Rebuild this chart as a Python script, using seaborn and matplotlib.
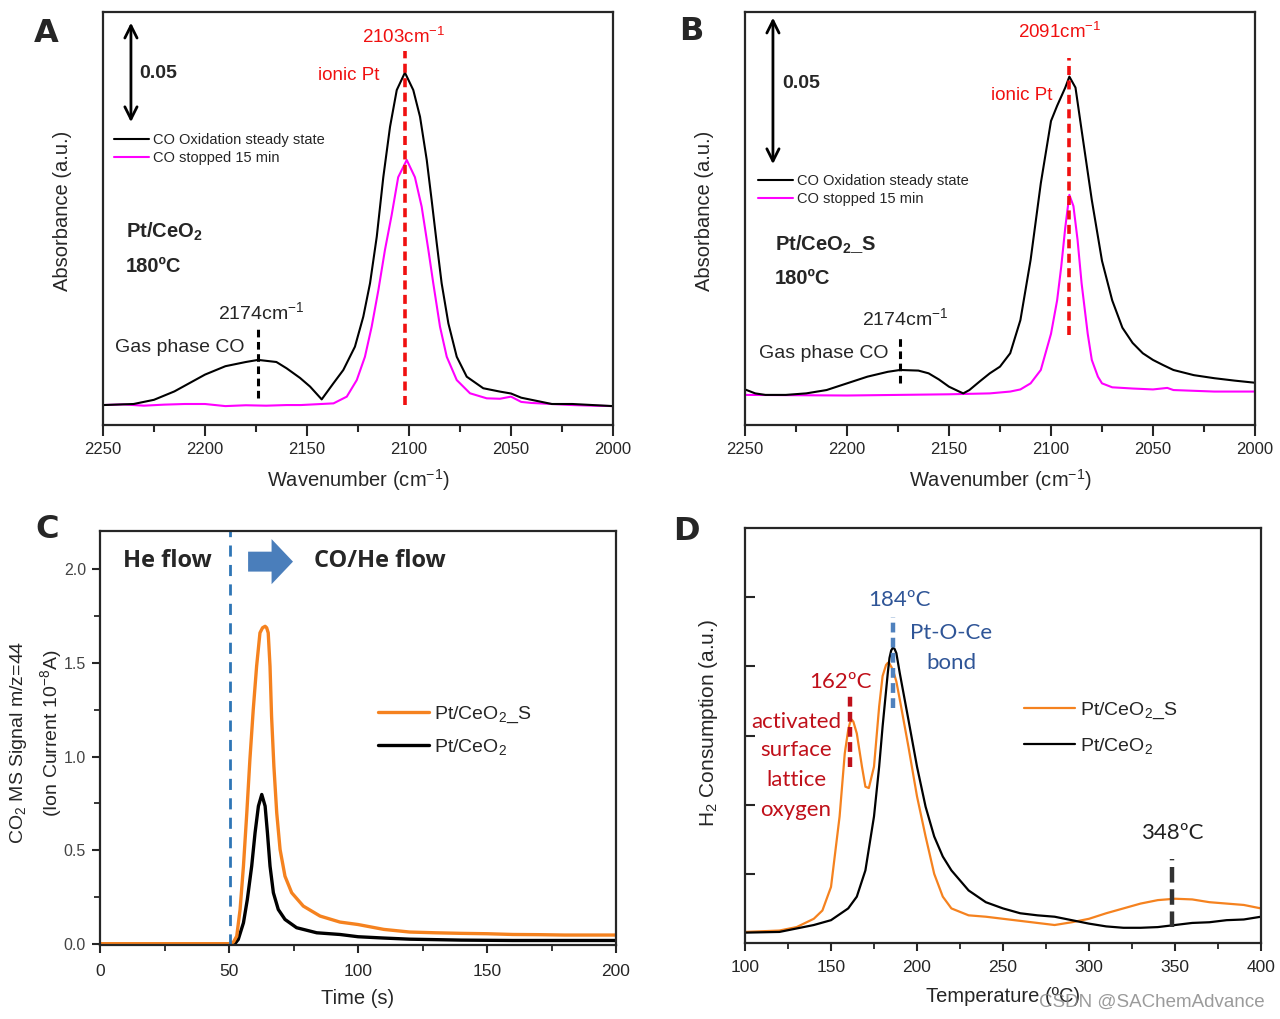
import numpy as np
import pandas as pd
import matplotlib
matplotlib.use("Agg")
import matplotlib.pyplot as plt
import seaborn as sns
from matplotlib.patches import FancyArrow
from matplotlib.ticker import MultipleLocator

# ---------------- data ----------------
# Panel A (Pt/CeO2, DRIFTS)
A_wn_black = [2250, 2235, 2225, 2215, 2200, 2190, 2180, 2174, 2165, 2160, 2153.4, 2148.5, 2142.8, 2137.1,
              2132.2, 2126.5, 2122.4, 2119.1, 2115.8, 2112.6, 2109.3, 2106.0, 2102.0, 2097.9, 2094.6, 2091.3,
              2088.9, 2086.4, 2084.0, 2080.7, 2076.6, 2071.7, 2063.6, 2055.4, 2050, 2045, 2040, 2030, 2020,
              2010, 2000]
A_black = [0.0095, 0.010, 0.012, 0.016, 0.024, 0.028, 0.030, 0.031, 0.030, 0.027, 0.0224, 0.0183, 0.0122,
           0.0198, 0.0262, 0.0373, 0.0516, 0.0675, 0.0897, 0.118, 0.142, 0.1595, 0.1678, 0.1595, 0.1468,
           0.1262, 0.1071, 0.0865, 0.0675, 0.0484, 0.0325, 0.0230, 0.0175, 0.0159, 0.015, 0.013, 0.012,
           0.010, 0.010, 0.0095, 0.009]
A_wn_mag = [2250, 2240, 2230, 2220, 2210, 2200, 2190, 2180, 2170, 2160, 2153, 2137, 2130.5, 2125.6, 2121.6,
            2118.3, 2115.0, 2111.8, 2108.5, 2105.3, 2101.1, 2097.1, 2093.8, 2090.5, 2088.1, 2084.8, 2081.5,
            2076.6, 2070.1, 2061.9, 2055.4, 2050, 2045, 2040, 2030, 2020, 2010, 2000]
A_mag = [0.0095, 0.0098, 0.0092, 0.0097, 0.0100, 0.0100, 0.0090, 0.0094, 0.0092, 0.0095, 0.0095, 0.0103,
         0.0135, 0.0214, 0.0325, 0.0468, 0.0643, 0.0833, 0.100, 0.118, 0.1262, 0.118, 0.104, 0.0833, 0.0675,
         0.0468, 0.0325, 0.0214, 0.0151, 0.0127, 0.0125, 0.0135, 0.011, 0.0105, 0.010, 0.0095, 0.0092, 0.009]

# Panel B (Pt/CeO2_S, DRIFTS)
B_wn_black = [2250, 2245, 2240, 2230, 2220, 2210, 2200, 2190, 2180, 2174, 2165, 2160, 2155, 2150, 2145, 2143,
              2140, 2135, 2130, 2125, 2120, 2115, 2110, 2105, 2100, 2097, 2093, 2091, 2088, 2085, 2080, 2075,
              2070, 2065, 2060, 2055, 2050, 2045, 2040, 2030, 2020, 2010, 2000]
B_black = [0.0117, 0.0104, 0.0099, 0.0099, 0.0104, 0.0115, 0.0137, 0.0159, 0.0175, 0.0181, 0.0179, 0.0170,
           0.0150, 0.0126, 0.0110, 0.0104, 0.0115, 0.0143, 0.0170, 0.0192, 0.0236, 0.0345, 0.0543, 0.0795,
           0.100, 0.105, 0.111, 0.1146, 0.111, 0.097, 0.074, 0.054, 0.041, 0.032, 0.027, 0.0236, 0.0214,
           0.0197, 0.0181, 0.0164, 0.0154, 0.0146, 0.0139]
B_wn_mag = [2250, 2225, 2200, 2175, 2150, 2130, 2120, 2115, 2110, 2105, 2100, 2097, 2095, 2093, 2091, 2089,
            2087, 2085, 2082, 2080, 2077, 2075, 2070, 2060, 2050, 2043, 2040, 2020, 2000]
B_mag = [0.0099, 0.0098, 0.0097, 0.0099, 0.0101, 0.0104, 0.0110, 0.0117, 0.0137, 0.0181, 0.030, 0.041,
         0.052, 0.065, 0.0757, 0.072, 0.061, 0.0466, 0.030, 0.0214, 0.0159, 0.0137, 0.0124, 0.0120, 0.0117,
         0.0122, 0.0115, 0.0110, 0.0110]

# Panel C (CO2 MS signal)
C_t_S = [0, 25, 50, 51.7, 53.0, 54.3, 55.6, 56.9, 58.1, 59.4, 60.7, 62.0, 63.0, 64.0, 64.6, 65.2, 65.9, 66.5,
         67.4, 68.5, 69.8, 71.7, 74.3, 78.8, 85.3, 93.0, 100, 110, 120, 130, 140, 150, 160, 170, 180, 190, 200]
C_S = [0.004, 0.004, 0.004, 0.012, 0.044, 0.186, 0.417, 0.70, 0.984, 1.25, 1.48, 1.658, 1.685, 1.693, 1.685,
       1.658, 1.48, 1.214, 0.948, 0.70, 0.505, 0.363, 0.275, 0.204, 0.151, 0.119, 0.106, 0.080, 0.066, 0.062,
       0.059, 0.057, 0.053, 0.052, 0.050, 0.050, 0.050]
C_t_P = [0, 25, 50, 52.3, 53.6, 55.6, 57.1, 58.8, 60.1, 61.4, 62.7, 64.0, 64.9, 65.9, 67.2, 69.1, 71.7, 76.2,
         84.0, 93.0, 100, 110, 120, 140, 160, 180, 200]
C_P = [0.003, 0.003, 0.003, 0.004, 0.027, 0.115, 0.239, 0.417, 0.594, 0.736, 0.798, 0.736, 0.594, 0.417,
       0.275, 0.186, 0.133, 0.089, 0.062, 0.053, 0.041, 0.034, 0.028, 0.023, 0.021, 0.021, 0.021]

# Panel D (H2-TPR)
D_T = [100, 120, 130, 140, 145, 150, 155, 158, 160, 161, 162, 163, 165, 168, 170, 172, 175, 178, 180, 182,
       183, 184, 186, 188, 190, 195, 200, 205, 210, 215, 220, 230, 240, 250, 260, 270, 280, 290, 300, 310,
       320, 330, 340, 350, 360, 370, 380, 390, 400]
D_S = [0.16, 0.18, 0.23, 0.35, 0.47, 0.81, 1.83, 2.74, 3.08, 3.18, 3.23, 3.20, 3.03, 2.55, 2.26, 2.24, 2.55,
       3.42, 3.86, 4.02, 4.05, 4.04, 3.95, 3.78, 3.52, 2.84, 2.12, 1.54, 1.00, 0.67, 0.50, 0.40, 0.38, 0.35,
       0.32, 0.29, 0.26, 0.30, 0.35, 0.43, 0.50, 0.57, 0.62, 0.64, 0.63, 0.59, 0.57, 0.55, 0.50]
D_T2 = [100, 120, 130, 140, 150, 160, 165, 170, 175, 178, 180, 183, 184, 185, 186, 187, 188, 190, 195, 200,
        205, 210, 215, 220, 230, 240, 250, 260, 270, 280, 290, 300, 310, 320, 330, 340, 350, 360, 370, 380,
        390, 400]
D_P = [0.15, 0.16, 0.21, 0.26, 0.33, 0.50, 0.67, 1.05, 1.83, 2.55, 3.13, 3.90, 4.12, 4.23, 4.27, 4.25, 4.19,
       3.90, 3.23, 2.55, 1.97, 1.54, 1.25, 1.05, 0.76, 0.59, 0.50, 0.43, 0.40, 0.38, 0.33, 0.28, 0.24, 0.22,
       0.22, 0.23, 0.26, 0.29, 0.30, 0.33, 0.34, 0.38]

lab_steady = "CO Oxidation steady state"
lab_stop = "CO stopped 15 min"
lab_S = "Pt/CeO$_2$_S"
lab_P = "Pt/CeO$_2$"

# ---------------- style ----------------
sns.set_theme(style="ticks")
plt.rcParams["font.family"] = ["Liberation Sans", "DejaVu Sans"]
plt.rcParams["mathtext.fontset"] = "custom"
plt.rcParams["mathtext.rm"] = "Liberation Sans"
plt.rcParams["mathtext.it"] = "Liberation Sans:italic"
plt.rcParams["mathtext.bf"] = "Liberation Sans:bold"
plt.rcParams["mathtext.default"] = "regular"
plt.rcParams["axes.linewidth"] = 1.6

W, H = 1280, 1019
fig = plt.figure(figsize=(12.8, 10.19), dpi=100)


def rect(l, t, r, b):
    return [l / W, 1 - b / H, (r - l) / W, (b - t) / H]


def ft(x, y, s, **kw):
    kw.setdefault("ha", "center")
    kw.setdefault("va", "center")
    fig.text(x / W, 1 - y / H, s, **kw)


def line(ax, x, y, color, lw, label=None):
    df = pd.DataFrame({"x": x, "y": y})
    sns.lineplot(data=df, x="x", y="y", ax=ax, color=color, lw=lw, sort=False,
                 estimator=None, label=label, legend=False)


RED = "#f01010"
MAG = "#ff00ff"
ORG = "#f5821f"

# ---------------- Panel A & B ----------------
axA = fig.add_axes(rect(103, 12, 613, 425))
axB = fig.add_axes(rect(745, 12, 1255, 425))

for ax, wb, yb, wm, ym, ytop in [(axA, A_wn_black, A_black, A_wn_mag, A_mag, 413 / 2100),
                                  (axB, B_wn_black, B_black, B_wn_mag, B_mag, 413 / 3040)]:
    line(ax, wm, ym, MAG, 1.5, lab_stop)
    line(ax, wb, yb, "black", 1.5, lab_steady)
    ax.set_xlim(2250, 2000)
    ax.set_ylim(0, ytop)
    ax.set_yticks([])
    ax.xaxis.set_major_locator(MultipleLocator(50))
    ax.xaxis.set_minor_locator(MultipleLocator(25))
    ax.tick_params(axis="x", which="major", direction="out", length=8, width=1.5, labelsize=12, pad=4)
    ax.tick_params(axis="x", which="minor", direction="out", length=5, width=1.5)
    ax.set_xlabel("")
    ax.set_ylabel("")
    for s in ax.spines.values():
        s.set_visible(True)
        s.set_linewidth(1.6)
    h, l = ax.get_legend_handles_labels()
    order = [l.index(lab_steady), l.index(lab_stop)]
    ax.legend([h[i] for i in order], [l[i] for i in order], frameon=False, fontsize=10.5,
              loc="upper left", handlelength=2.4, handletextpad=0.3, labelspacing=0.3,
              borderpad=0, borderaxespad=0,
              bbox_to_anchor=((114 - 103) / 510, (425 - 133) / 413) if ax is axA
              else ((758 - 745) / 510, (425 - 174) / 413))

# annotation marks A
axA.vlines(2102, 0.0095, 0.178, colors=RED, linestyles=(0, (2.5, 1.5)), lw=2.6)
axA.vlines(2174, 0.0127, 0.046, colors="black", linestyles=(0, (2.5, 1.5)), lw=2.2)
axA.annotate("", xy=(2236.3, 0.1929), xytext=(2236.3, 0.1429),
             arrowprops=dict(arrowstyle="<->", lw=2, color="black", mutation_scale=22))
# annotation marks B
axB.vlines(2091, 0.0296, 0.1206, colors=RED, linestyles=(0, (2.5, 1.5)), lw=2.6)
axB.vlines(2174, 0.0137, 0.029, colors="black", linestyles=(0, (2.5, 1.5)), lw=2.2)
axB.annotate("", xy=(2236.3, 0.1349), xytext=(2236.3, 0.0849),
             arrowprops=dict(arrowstyle="<->", lw=2, color="black", mutation_scale=22))

ft(404, 37, "2103cm$^{-1}$", color=RED, fontsize=13.5)
ft(349, 76, "ionic Pt", color=RED, fontsize=13.5)
ft(261, 312, "2174cm$^{-1}$", fontsize=14)
ft(180, 347, "Gas phase CO", fontsize=14)
ft(139, 73, "0.05", ha="left", fontsize=14, fontweight="bold")
ft(126, 232, r"Pt/CeO$_\mathbf{2}$", ha="left", fontsize=14.5, fontweight="bold")
ft(126, 267, "180ºC", ha="left", fontsize=14.5, fontweight="bold")

ft(1060, 32, "2091cm$^{-1}$", color=RED, fontsize=13.5)
ft(1022, 96, "ionic Pt", color=RED, fontsize=13.5)
ft(905, 318, "2174cm$^{-1}$", fontsize=14)
ft(824, 353, "Gas phase CO", fontsize=14)
ft(782, 83, "0.05", ha="left", fontsize=14, fontweight="bold")
ft(775, 245, r"Pt/CeO$_\mathbf{2}$_S", ha="left", fontsize=14.5, fontweight="bold")
ft(775, 279, "180ºC", ha="left", fontsize=14.5, fontweight="bold")

for xc in (358, 1000):
    ft(xc, 480, "Wavenumber (cm$^{-1}$)", fontsize=14.5)
for xc in (62, 704):
    ft(xc, 211, "Absorbance (a.u.)", fontsize=14.5, rotation=90)

# ---------------- Panel C ----------------
axC = fig.add_axes(rect(100, 531, 616, 945))
line(axC, C_t_P, C_P, "black", 2.4, lab_P)
line(axC, C_t_S, C_S, ORG, 2.4, lab_S)
axC.axvline(50.5, color="#2e75b6", lw=2, ls=(0, (4, 3)))
axC.add_patch(FancyArrow(57.4, 2.037, 17.4, 0, width=0.106, head_width=0.24, head_length=8.3,
                         length_includes_head=True, color="#4a7ebb", lw=0))
axC.set_xlim(0, 200)
axC.set_ylim(-0.003, 2.2)
axC.xaxis.set_major_locator(MultipleLocator(50))
axC.xaxis.set_minor_locator(MultipleLocator(25))
axC.yaxis.set_minor_locator(MultipleLocator(0.25))
axC.set_yticks([0, 0.5, 1.0, 1.5, 2.0])
axC.set_yticklabels(["0.0", "0.5", "1.0", "1.5", "2.0"])
axC.tick_params(axis="both", which="major", direction="out", length=6, width=1.5, labelsize=12.5)
axC.tick_params(axis="y", which="major", labelcolor="#444444", labelsize=11.5, pad=4)
axC.tick_params(axis="x", which="major", pad=8)
axC.tick_params(axis="both", which="minor", direction="out", length=4, width=1.3)
axC.set_xlabel("")
axC.set_ylabel("")
hC, lC = axC.get_legend_handles_labels()
oC = [lC.index(lab_S), lC.index(lab_P)]
axC.legend([hC[i] for i in oC], [lC[i] for i in oC], frameon=False, fontsize=14, loc="upper left",
           handlelength=2.6, handletextpad=0.3, labelspacing=0.6, borderpad=0, borderaxespad=0,
           bbox_to_anchor=((378 - 100) / 516, (945 - 705) / 414))
ft(167, 561, "He flow", fontsize=17, fontweight="bold", family=["Open Sans", "DejaVu Sans"])
ft(380, 561, "CO/He flow", fontsize=17, fontweight="bold", family=["Open Sans", "DejaVu Sans"])
ft(358, 998, "Time (s)", fontsize=14.5)
ft(19, 742, "CO$_2$ MS Signal m/z=44", fontsize=14, rotation=90)
ft(51, 733, "(Ion Current 10$^{-8}$A)", fontsize=14, rotation=90)

# ---------------- Panel D ----------------
axD = fig.add_axes(rect(745, 528, 1261, 943))
line(axD, D_T, D_S, ORG, 1.6, lab_S)
line(axD, D_T2, D_P, "black", 1.6, lab_P)
axD.vlines(161, 2.55, 3.57, colors="#c0101a", linestyles=(0, (2.2, 1.2)), lw=3.2)
axD.vlines(186, 3.40, 4.72, colors="#4f81bd", linestyles=(0, (2.2, 1.2)), lw=3.2)
axD.vlines(348, 0.23, 1.22, colors="#333333", linestyles=(0, (3.5, 1.5)), lw=3.2)
axD.set_xlim(100, 400)
axD.set_ylim(0, 6.0)
axD.set_yticks([1, 2, 3, 4, 5])
axD.set_yticklabels([])
axD.xaxis.set_major_locator(MultipleLocator(50))
axD.xaxis.set_minor_locator(MultipleLocator(25))
axD.tick_params(axis="x", which="major", direction="out", length=6, width=1.5, labelsize=12.5, pad=6)
axD.tick_params(axis="x", which="minor", direction="out", length=4, width=1.3)
axD.tick_params(axis="y", which="major", direction="in", length=7, width=1.5)
axD.set_xlabel("")
axD.set_ylabel("")
hD, lD = axD.get_legend_handles_labels()
oD = [lD.index(lab_S), lD.index(lab_P)]
axD.legend([hD[i] for i in oD], [lD[i] for i in oD], frameon=False, fontsize=14, loc="upper left",
           handlelength=2.6, handletextpad=0.3, labelspacing=0.75, borderpad=0, borderaxespad=0,
           bbox_to_anchor=((1024 - 745) / 516, (943 - 701) / 415))
LATO = ["Lato", "DejaVu Sans"]
BLUE_T = "#2f5597"
RED_T = "#c0101a"
ft(899, 600, "184ºC", color=BLUE_T, fontsize=16, family=LATO)
ft(951, 633, "Pt-O-Ce", color=BLUE_T, fontsize=16, family=LATO)
ft(951, 663, "bond", color=BLUE_T, fontsize=16, family=LATO)
ft(840, 682, "162ºC", color=RED_T, fontsize=16, family=LATO)
for yy, w in zip((722, 750, 780, 810), ("activated", "surface", "lattice", "oxygen")):
    ft(796, yy, w, color=RED_T, fontsize=16, family=LATO)
ft(1172, 833, "348ºC", color="#222222", fontsize=16, family=LATO)
ft(709, 723, "H$_2$ Consumption (a.u.)", fontsize=15, rotation=90)
ft(1003, 997, "Temperature (ºC)", fontsize=14.5)
ft(1265, 1002, "CSDN @SAChemAdvance", ha="right", fontsize=13.5, color="#8a8a8a", alpha=0.85)

# panel letters
for (x, y, s) in [(46, 34, "A"), (691, 31, "B"), (47, 530, "C"), (686, 532, "D")]:
    ft(x, y, s, fontsize=23, fontweight="heavy", family=["DejaVu Sans"])

fig.savefig("out.png", dpi=100)
